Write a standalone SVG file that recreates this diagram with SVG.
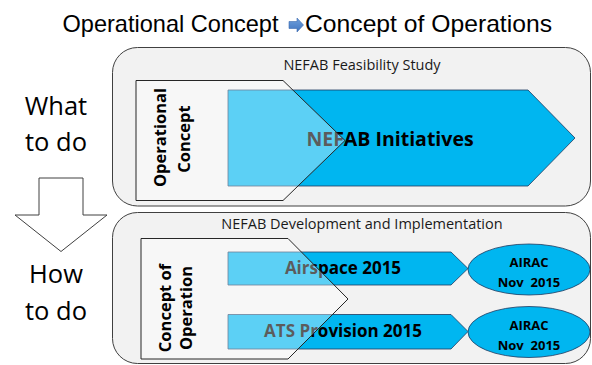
<svg xmlns="http://www.w3.org/2000/svg" width="592" height="365" viewBox="0 0 592 365">
<defs>
<style>
.box{fill:#F2F2F2;stroke:#404040;stroke-width:1}
.blue{fill:#00B6F0;stroke:#1F3A5F;stroke-width:0.8}
.pent{fill:#FFFFFF;fill-opacity:0.36;stroke:#262626;stroke-width:1}
.sub{font-family:"Open Sans",sans-serif;font-size:14.5px;fill:#1a1a1a;text-anchor:middle}
.big{font-family:"Open Sans",sans-serif;font-weight:bold;fill:#000;text-anchor:middle}
.side{font-family:"Open Sans",sans-serif;font-size:25.5px;fill:#000;text-anchor:middle}
.vert{font-family:"Open Sans",sans-serif;font-weight:bold;font-size:16.5px;fill:#000;text-anchor:middle}
.air{font-family:"Open Sans",sans-serif;font-weight:bold;font-size:13px;fill:#000;text-anchor:middle}
.ttl{font-family:"Liberation Sans",Arial,sans-serif;font-size:24px;fill:#000}
</style>
<linearGradient id="tg" x1="0" y1="0" x2="0" y2="1">
<stop offset="0" stop-color="#6FA0DC"/>
<stop offset="1" stop-color="#3F74C0"/>
</linearGradient>
</defs>
<rect width="592" height="365" fill="#FFFFFF"/>
<g id="title">
<text class="ttl" x="62.5" y="31.5" textLength="216" lengthAdjust="spacingAndGlyphs">Operational Concept</text>
<polygon points="289,21.5 297,21.5 297,18 303.5,25 297,32 297,28.5 289,28.5" fill="url(#tg)" stroke="#3B6AAE" stroke-width="0.6"/>
<text class="ttl" x="305" y="31.5" textLength="247" lengthAdjust="spacingAndGlyphs">Concept of Operations</text>
</g>
<g id="left-labels">
<text class="side" x="56" y="115">What</text>
<text class="side" x="56" y="151">to do</text>
<text class="side" x="56" y="283">How</text>
<text class="side" x="56" y="320">to do</text>
</g>
<g id="connectors">
<polygon points="39,178 83,178 83,215 107,215 61,251.5 15,215 39,215" fill="#FFFFFF" stroke="#404040" stroke-width="1"/>
</g>
<g id="feasibility">
<rect class="box" x="112.5" y="47.5" width="478" height="158.5" rx="25"/>
<text class="sub" x="362" y="70">NEFAB Feasibility Study</text>
</g>
<g id="development">
<rect class="box" x="112.5" y="212.5" width="478" height="151" rx="25"/>
<text class="sub" x="362" y="228.5">NEFAB Development and Implementation</text>
</g>
<g id="initiatives">
<polygon class="blue" points="228,90 528,90 575,138 528,186 228,186"/>
<text class="big" x="390" y="146" font-size="19.5">NEFAB Initiatives</text>
</g>
<g id="airspace">
<polygon class="blue" points="228,252 451,252 468,268.5 451,285 228,285"/>
<text class="big" x="343" y="274" font-size="17">Airspace 2015</text>
</g>
<g id="ats">
<polygon class="blue" points="228,314.5 451,314.5 468,331.5 451,349 228,349"/>
<text class="big" x="343" y="337" font-size="17">ATS Provision 2015</text>
</g>
<g id="airac1">
<ellipse class="blue" cx="529" cy="269.5" rx="61" ry="25.5"/>
<text class="air" x="529" y="266.5">AIRAC</text>
<text class="air" x="529" y="286.5" xml:space="preserve">Nov  2015</text>
</g>
<g id="airac2">
<ellipse class="blue" cx="529" cy="332" rx="61" ry="25.5"/>
<text class="air" x="529" y="330">AIRAC</text>
<text class="air" x="529" y="349.5" xml:space="preserve">Nov  2015</text>
</g>
<g id="operational-concept">
<polygon class="pent" points="136,80.5 283,80.5 345,140.5 283,200.5 136,200.5"/>
<text class="vert" transform="translate(166,137.5) rotate(-90)">Operational</text>
<text class="vert" transform="translate(189.5,139) rotate(-90)">Concept</text>
</g>
<g id="concept-of-operation">
<polygon class="pent" points="141,238.5 288,238.5 348,299 288,359 141,359"/>
<text class="vert" transform="translate(171,308) rotate(-90)">Concept of</text>
<text class="vert" transform="translate(191.5,308) rotate(-90)">Operation</text>
</g>
</svg>
